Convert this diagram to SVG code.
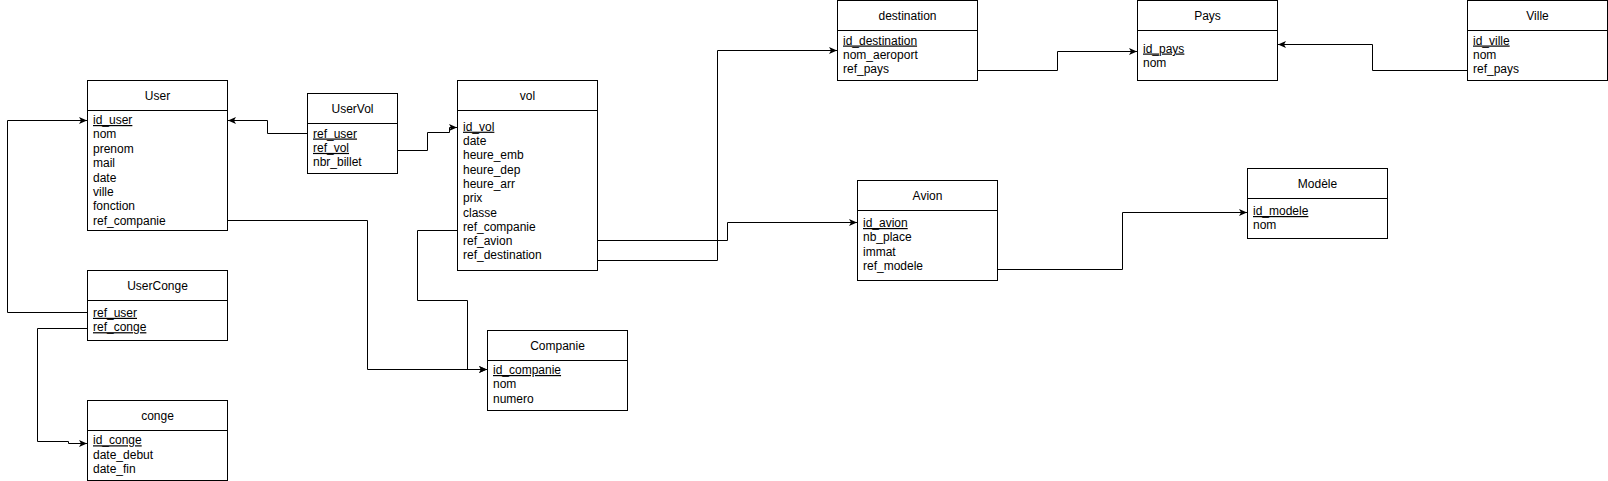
<svg xmlns="http://www.w3.org/2000/svg" width="1608" height="481" viewBox="0 0 1608 481">
<style>
.box{fill:#fff;stroke:#000;stroke-width:1}
.sep{stroke:#000;stroke-width:1}
text{font-family:"Liberation Sans",Arial,sans-serif;font-size:12px;fill:#000}
.t{text-anchor:middle}
.pk{text-decoration:underline}
.c{fill:none;stroke:#000;stroke-width:1;marker-end:url(#arr)}
</style>
<defs>
<marker id="arr" viewBox="0 0 8 8" refX="8" refY="4" markerWidth="8" markerHeight="8" orient="auto" markerUnits="userSpaceOnUse">
<path d="M0,0.5 L8,4 L0,7.5 L2,4 z" fill="#000"/>
</marker>
</defs>
<g id="connectors">
<path class="c" d="M307,133.5 H267.5 V120.5 H228"/>
<path class="c" d="M398,150.5 H427.5 V132.5 H449.5 V127.5 H457"/>
<path class="c" d="M87,312.5 H7.5 V120.5 H87"/>
<path class="c" d="M87,328.5 H37.5 V441.5 H68.5 V443.5 H87"/>
<path class="c" d="M228,220.5 H367.5 V369.5 H487"/>
<path class="c" d="M457,230.5 H417.5 V300.5 H467.5 V369.5 H487"/>
<path class="c" d="M598,240.5 H727.5 V222.5 H857"/>
<path class="c" d="M598,260.5 H717.5 V50.5 H837"/>
<path class="c" d="M978,70.5 H1057.5 V51.5 H1137"/>
<path class="c" d="M1467,70.5 H1372.5 V44.5 H1278"/>
<path class="c" d="M998,269.5 H1122.5 V212.5 H1247"/>
</g>
<g id="User">
<rect class="box" x="87.5" y="80.5" width="140" height="150"/>
<line class="sep" x1="87.5" y1="110.5" x2="227.5" y2="110.5"/>
<text class="t" x="157.5" y="99.5">User</text>
<text class="pk" x="93" y="124">id_user</text>
<text x="93" y="138.4">nom</text>
<text x="93" y="152.8">prenom</text>
<text x="93" y="167.2">mail</text>
<text x="93" y="181.6">date</text>
<text x="93" y="196">ville</text>
<text x="93" y="210.4">fonction</text>
<text x="93" y="224.8">ref_companie</text>
</g>
<g id="UserVol">
<rect class="box" x="307.5" y="93.5" width="90" height="80"/>
<line class="sep" x1="307.5" y1="123.5" x2="397.5" y2="123.5"/>
<text class="t" x="352.5" y="112.5">UserVol</text>
<text class="pk" x="313" y="137.5">ref_user</text>
<text class="pk" x="313" y="151.9">ref_vol</text>
<text x="313" y="166.3">nbr_billet</text>
</g>
<g id="UserConge">
<rect class="box" x="87.5" y="270.5" width="140" height="70"/>
<line class="sep" x1="87.5" y1="300.5" x2="227.5" y2="300.5"/>
<text class="t" x="157.5" y="289.5">UserConge</text>
<text class="pk" x="93" y="316.8">ref_user</text>
<text class="pk" x="93" y="331.2">ref_conge</text>
</g>
<g id="conge">
<rect class="box" x="87.5" y="400.5" width="140" height="80"/>
<line class="sep" x1="87.5" y1="430.5" x2="227.5" y2="430.5"/>
<text class="t" x="157.5" y="419.5">conge</text>
<text class="pk" x="93" y="444.3">id_conge</text>
<text x="93" y="458.7">date_debut</text>
<text x="93" y="473.1">date_fin</text>
</g>
<g id="vol">
<rect class="box" x="457.5" y="80.5" width="140" height="190"/>
<line class="sep" x1="457.5" y1="110.5" x2="597.5" y2="110.5"/>
<text class="t" x="527.5" y="99.5">vol</text>
<text class="pk" x="463" y="130.7">id_vol</text>
<text x="463" y="145">date</text>
<text x="463" y="159.3">heure_emb</text>
<text x="463" y="173.6">heure_dep</text>
<text x="463" y="187.9">heure_arr</text>
<text x="463" y="202.2">prix</text>
<text x="463" y="216.5">classe</text>
<text x="463" y="230.8">ref_companie</text>
<text x="463" y="245.1">ref_avion</text>
<text x="463" y="259.4">ref_destination</text>
</g>
<g id="Companie">
<rect class="box" x="487.5" y="330.5" width="140" height="80"/>
<line class="sep" x1="487.5" y1="360.5" x2="627.5" y2="360.5"/>
<text class="t" x="557.5" y="349.5">Companie</text>
<text class="pk" x="493" y="374">id_companie</text>
<text x="493" y="388.4">nom</text>
<text x="493" y="402.8">numero</text>
</g>
<g id="destination">
<rect class="box" x="837.5" y="0.5" width="140" height="80"/>
<line class="sep" x1="837.5" y1="30.5" x2="977.5" y2="30.5"/>
<text class="t" x="907.5" y="19.5">destination</text>
<text class="pk" x="843" y="44.5">id_destination</text>
<text x="843" y="58.9">nom_aeroport</text>
<text x="843" y="73.3">ref_pays</text>
</g>
<g id="Pays">
<rect class="box" x="1137.5" y="0.5" width="140" height="80"/>
<line class="sep" x1="1137.5" y1="30.5" x2="1277.5" y2="30.5"/>
<text class="t" x="1207.5" y="19.5">Pays</text>
<text class="pk" x="1143" y="52.5">id_pays</text>
<text x="1143" y="66.9">nom</text>
</g>
<g id="Ville">
<rect class="box" x="1467.5" y="0.5" width="140" height="80"/>
<line class="sep" x1="1467.5" y1="30.5" x2="1607.5" y2="30.5"/>
<text class="t" x="1537.5" y="19.5">Ville</text>
<text class="pk" x="1473" y="44.5">id_ville</text>
<text x="1473" y="58.9">nom</text>
<text x="1473" y="73.3">ref_pays</text>
</g>
<g id="Avion">
<rect class="box" x="857.5" y="180.5" width="140" height="100"/>
<line class="sep" x1="857.5" y1="210.5" x2="997.5" y2="210.5"/>
<text class="t" x="927.5" y="199.5">Avion</text>
<text class="pk" x="863" y="227">id_avion</text>
<text x="863" y="241.4">nb_place</text>
<text x="863" y="255.8">immat</text>
<text x="863" y="270.2">ref_modele</text>
</g>
<g id="Modele">
<rect class="box" x="1247.5" y="168.5" width="140" height="70"/>
<line class="sep" x1="1247.5" y1="198.5" x2="1387.5" y2="198.5"/>
<text class="t" x="1317.5" y="187.5">Modèle</text>
<text class="pk" x="1253" y="215">id_modele</text>
<text x="1253" y="229.4">nom</text>
</g>
</svg>
